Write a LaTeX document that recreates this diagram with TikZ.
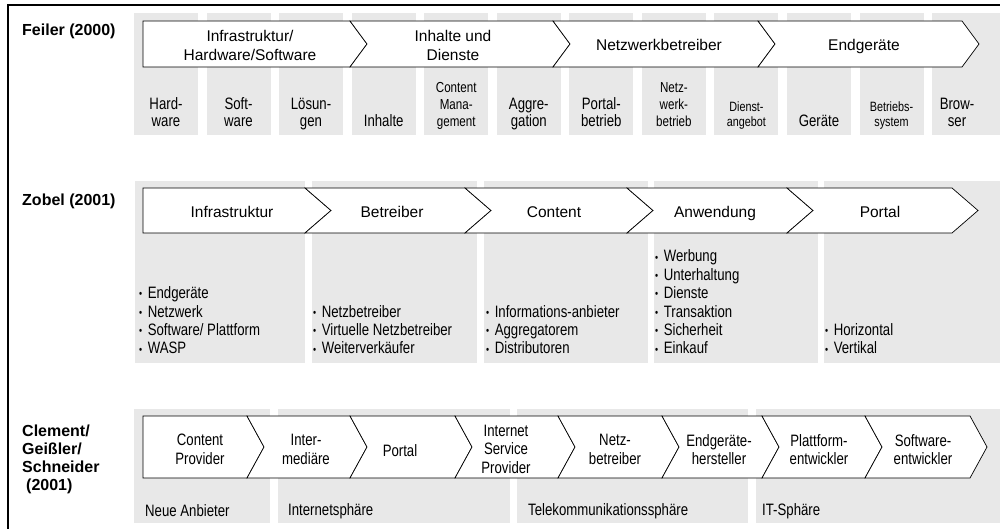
\documentclass[tikz,border=0pt]{standalone}
\usepackage{fontspec}
\setmainfont{Liberation Sans}
\newfontfamily\narrowfont{Liberation Sans}[FakeStretch=0.8]
\definecolor{colgrey}{RGB}{232,232,232}
\newcommand{\chevfirst}[6]{\draw[chevbox] (#1,#4) -- (#2,#4) -- ({#2+#3},#5) -- (#2,#6) -- (#1,#6) -- cycle;}
\newcommand{\chevnext}[6]{\draw[chevbox] (#1,#4) -- (#2,#4) -- ({#2+#3},#5) -- (#2,#6) -- (#1,#6) -- ({#1+#3},#5) -- cycle;}
\newcommand{\bulitem}{{\fontsize{11}{11}\selectfont\raisebox{0.8pt}{•}}\hspace{5.5pt}}
\tikzset{
  framel/.style={draw=black, line width=1.3pt},
  chevbox/.style={draw=black, fill=white, line width=0.7pt, line join=miter},
  hdr/.style={font=\fontsize{15.5}{19}\selectfont, align=center, inner sep=0},
  hdrone/.style={font=\fontsize{15.5}{19}\selectfont, inner sep=0, text height=11pt, text depth=3pt},
  lbl/.style={font=\narrowfont\fontsize{16.5}{17}\selectfont, align=center, inner sep=0, anchor=south, text depth=4pt},
  lblm/.style={font=\narrowfont\fontsize{14.5}{17}\selectfont, align=center, inner sep=0, anchor=south, text depth=4pt},
  lbls/.style={font=\narrowfont\fontsize{13.5}{15}\selectfont, align=center, inner sep=0, anchor=south, text depth=4pt},
  lst/.style={font=\narrowfont\fontsize{16.5}{18.4}\selectfont, align=left, inner sep=0, anchor=south west, text depth=4pt},
  arr/.style={font=\narrowfont\fontsize{16.5}{18.5}\selectfont, align=center, inner sep=0},
  sph/.style={font=\narrowfont\fontsize{16.5}{18}\selectfont, inner sep=0, anchor=west},
  ttl/.style={font=\bfseries\fontsize{16}{18}\selectfont, align=left, inner sep=0, anchor=west},
}
\begin{document}
\begin{tikzpicture}[x=1pt,y=-1pt]
\useasboundingbox (0,0) rectangle (1000,529);
% frame
\draw[framel] (8,529) -- (8,5) -- (1000,5);

% ---------- Row 1: Feiler ----------
\foreach \i in {0,...,10} { \fill[colgrey] ({134+72.55*\i},13) rectangle ++(64,122); }
\fill[colgrey] (932,13) rectangle (1000,135);
\chevfirst{143}{350}{17}{21}{44}{67}
\chevnext{350}{553}{17}{21}{44}{67}
\chevnext{553}{758}{17}{21}{44}{67}
\chevnext{758}{962}{17}{21}{44}{67}
\node[ttl] (t1) at (22,31.6) {Feiler (2000)};
\node[hdr] (h11) at (250,45.5) {Infrastruktur/\\Hardware/Software};
\node[hdr] (h12) at (453,45.5) {Inhalte und\\Dienste};
\node[hdrone] (h13) at (659,46.5) {Netzwerkbetreiber};
\node[hdrone] (h14) at (864,46.5) {Endgeräte};
\node[lbl]  (c1)  at (166,130.5)   {Hard-\\ware};
\node[lbl]  (c2)  at (238.5,130.5) {Soft-\\ware};
\node[lbl]  (c3)  at (311,130.5)   {Lösun-\\gen};
\node[lbl]  (c4)  at (383.7,130.5) {Inhalte};
\node[lblm] (c5)  at (456.2,130.5) {Content\\Mana-\\gement};
\node[lbl]  (c6)  at (528.8,130.5) {Aggre-\\gation};
\node[lbl]  (c7)  at (601.3,130.5) {Portal-\\betrieb};
\node[lblm] (c8)  at (673.9,130.5) {Netz-\\werk-\\betrieb};
\node[lbls] (c9)  at (746.4,130.5) {Dienst-\\angebot};
\node[lbl]  (c10) at (819,130.5)   {Geräte};
\node[lbls] (c11) at (891.5,130.5) {Betriebs-\\system};
\node[lbl]  (c12) at (957,130.5)   {Brow-\\ser};

% ---------- Row 2: Zobel ----------
\fill[colgrey] (135,181) rectangle (305,363);
\fill[colgrey] (312,181) rectangle (477,363);
\fill[colgrey] (484,181) rectangle (648,363);
\fill[colgrey] (654,181) rectangle (818,363);
\fill[colgrey] (824,181) rectangle (1000,363);
\chevfirst{143}{305}{26}{188}{210.5}{233}
\chevnext{305}{465}{26}{188}{210.5}{233}
\chevnext{465}{627}{26}{188}{210.5}{233}
\chevnext{627}{787}{26}{188}{210.5}{233}
\chevnext{787}{952}{26}{188}{210.5}{233}
\node[ttl] (t2) at (22,201.6) {Zobel (2001)};
\node[hdrone] (h21) at (232,214) {Infrastruktur};
\node[hdrone] (h22) at (392,214) {Betreiber};
\node[hdrone] (h23) at (554,214) {Content};
\node[hdrone] (h24) at (715,214) {Anwendung};
\node[hdrone] (h25) at (880,214) {Portal};
\node[lst] (l1) at (139,358) {\bulitem Endgeräte\\\bulitem Netzwerk\\\bulitem Software/ Plattform\\\bulitem WASP};
\node[lst] (l2) at (313,358) {\bulitem Netzbetreiber\\\bulitem Virtuelle Netzbetreiber\\\bulitem Weiterverkäufer};
\node[lst] (l3) at (486,358) {\bulitem Informations-anbieter\\\bulitem Aggregatorem\\\bulitem Distributoren};
\node[lst] (l4) at (655,358) {\bulitem Werbung\\\bulitem Unterhaltung\\\bulitem Dienste\\\bulitem Transaktion\\\bulitem Sicherheit\\\bulitem Einkauf};
\node[lst] (l5) at (825,358) {\bulitem Horizontal\\\bulitem Vertikal};

% ---------- Row 3: Clement/Geißler/Schneider ----------
\fill[colgrey] (134,409) rectangle (270,523);
\fill[colgrey] (278,409) rectangle (510,523);
\fill[colgrey] (517,409) rectangle (748,523);
\fill[colgrey] (756,409) rectangle (1000,523);
\chevfirst{143}{247}{17}{416}{447}{478}
\chevnext{247}{350}{17}{416}{447}{478}
\chevnext{350}{455}{17}{416}{447}{478}
\chevnext{455}{558}{17}{416}{447}{478}
\chevnext{558}{662}{17}{416}{447}{478}
\chevnext{662}{762}{17}{416}{447}{478}
\chevnext{762}{865}{17}{416}{447}{478}
\chevnext{865}{970}{17}{416}{447}{478}
\node[ttl] (t3) at (22,459.5) {Clement/\\Geißler/\\Schneider\\\hspace*{4pt}(2001)};
\node[arr] (a1) at (200,449.5) {Content\\Provider};
\node[arr] (a2) at (306,449.5) {Inter-\\mediäre};
\node[arr] (a3) at (400,450.5) {Portal};
\node[arr] (a4) at (506,449) {Internet\\Service\\Provider};
\node[arr] (a5) at (615,449.5) {Netz-\\betreiber};
\node[arr] (a6) at (719,449.5) {Endgeräte-\\hersteller};
\node[arr] (a7) at (819,449.5) {Plattform-\\entwickler};
\node[arr] (a8) at (923,449.5) {Software-\\entwickler};
\node[sph] (s1) at (145,511) {Neue Anbieter};
\node[sph] (s2) at (288,511) {Internetsphäre};
\node[sph] (s3) at (528,511) {Telekommunikationssphäre};
\node[sph] (s4) at (762,511) {IT-Sphäre};
\end{tikzpicture}
\end{document}
